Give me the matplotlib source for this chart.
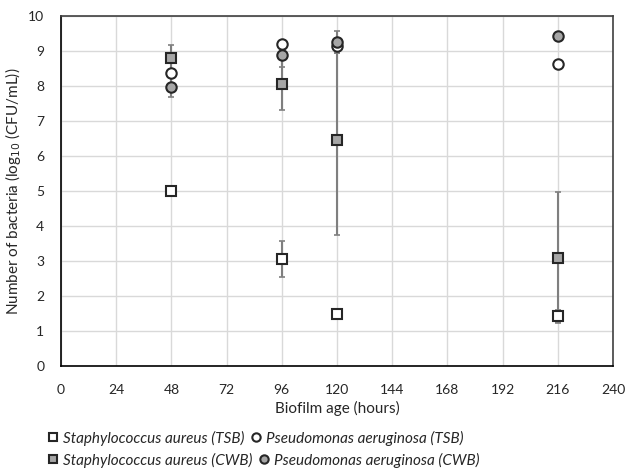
import matplotlib
matplotlib.use("Agg")
import matplotlib.pyplot as plt
from matplotlib.lines import Line2D

plt.rcParams['font.family'] = ['Lato', 'DejaVu Sans']

# Biofilm age (hours)
hours = [48, 96, 120, 216]

# log10 CFU/mL values and error bars
sa_tsb = [5.00, 3.06, 1.50, 1.43]
sa_tsb_err = [0.0, 0.52, 0.0, 0.16]
pa_tsb = [8.36, 9.19, 9.15, 8.62]
pa_tsb_err = [0.0, 0.0, 0.20, 0.0]
sa_cwb = [8.81, 8.06, 6.46, 3.10]
sa_cwb_err = [0.35, 0.74, 2.72, 1.87]
pa_cwb = [7.98, 8.89, 9.25, 9.43]
pa_cwb_err = [0.30, 0.34, 0.32, 0.0]

labels = ["Staphylococcus aureus (TSB)", "Pseudomonas aeruginosa (TSB)",
          "Staphylococcus aureus (CWB)", "Pseudomonas aeruginosa (CWB)"]

edge = "#262626"
grey = "#a6a6a6"
errc = "#7f7f7f"

fig = plt.figure(figsize=(6.26, 4.68), dpi=100)
ax = fig.add_axes([61 / 626, 1 - 366 / 468, 552 / 626, 350 / 468])

series = [
    (sa_tsb, sa_tsb_err, "s", "white"),
    (pa_tsb, pa_tsb_err, "o", "white"),
    (sa_cwb, sa_cwb_err, "s", grey),
    (pa_cwb, pa_cwb_err, "o", grey),
]

# error bars first, markers on top
for vals, err, m, fc in series:
    ax.errorbar(hours, vals, yerr=err, fmt="none", ecolor=errc, elinewidth=1.5,
                capsize=2.5, capthick=1.2, zorder=2)
for vals, err, m, fc in series:
    ax.plot(hours, vals, linestyle="none", marker=m, markersize=7.5,
            markerfacecolor=fc, markeredgecolor=edge, markeredgewidth=1.5, zorder=3)

ax.set_xlim(0, 240)
ax.set_ylim(0, 10)
ax.set_xticks(range(0, 241, 24))
ax.set_yticks(range(0, 11))
ax.grid(True, color="#d9d9d9", linewidth=1)
ax.set_axisbelow(True)
ax.tick_params(length=0, labelsize=10, labelcolor="#262626")
ax.tick_params(axis="x", pad=13)
ax.tick_params(axis="y", pad=12)
for s in ax.spines.values():
    s.set_color("#404040")
    s.set_linewidth(1.2)
ax.spines["left"].set_color("#000000")
ax.spines["bottom"].set_color("#000000")

ax.set_xlabel("Biofilm age (hours)", fontsize=11, color="#262626")
ax.set_ylabel("Number of bacteria (log$_{10}$ (CFU/mL))", fontsize=11, color="#262626")
ax.xaxis.set_label_coords(0.5, (366 - 401) / 350)
ax.yaxis.set_label_coords((23 - 61) / 552, 0.5)

# legend in two flowing rows
handles = []
for vals, err, m, fc in series:
    handles.append(Line2D([], [], linestyle="none", marker=m, markersize=6,
                          markerfacecolor=fc, markeredgecolor=edge, markeredgewidth=1.5))

for row, ypix in enumerate([438, 460]):
    leg = fig.legend(handles[2 * row:2 * row + 2], labels[2 * row:2 * row + 2], ncol=2,
                     loc="center left", bbox_to_anchor=(48 / 626, 1 - ypix / 468),
                     frameon=False, handlelength=0.6, handletextpad=0.35,
                     columnspacing=0.5, borderaxespad=0, borderpad=0,
                     prop={"style": "italic", "size": 11})
    for t in leg.get_texts():
        t.set_color("#262626")

fig.savefig("out.png", dpi=100)
